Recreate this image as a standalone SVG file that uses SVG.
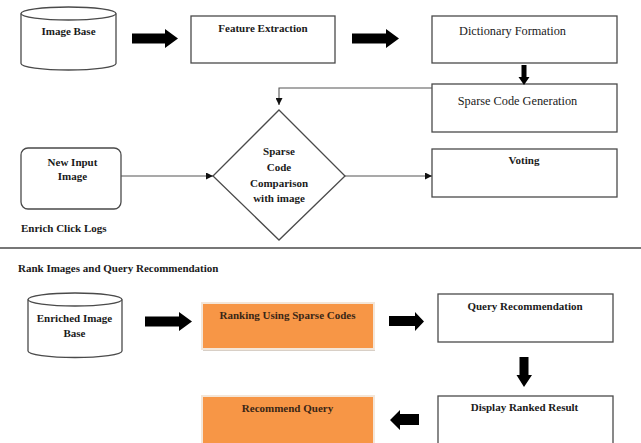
<svg xmlns="http://www.w3.org/2000/svg" width="641" height="443" viewBox="0 0 641 443">
  <style>
    .box { fill: #ffffff; stroke: #4a4a4a; stroke-width: 1.3; }
    .orange { fill: #f79646; stroke: #f4e6d8; stroke-width: 2; }
    .link { fill: none; stroke: #555555; stroke-width: 1.1; }
    .block { fill: #000000; }
    .tb { font-family: "Liberation Serif", "Times New Roman", serif; font-weight: bold; font-size: 11px; fill: #1a1a1a; text-anchor: middle; }
    .tr { font-family: "Liberation Serif", "Times New Roman", serif; font-size: 12.3px; fill: #1a1a1a; text-anchor: middle; }
    .lbl { font-family: "Liberation Serif", "Times New Roman", serif; font-weight: bold; font-size: 11px; fill: #1a1a1a; }
    .on-orange { fill: #3a2616; }
  </style>
  <defs>
    <marker id="tri" viewBox="0 0 10 10" refX="10" refY="5" markerWidth="7" markerHeight="7" markerUnits="userSpaceOnUse" orient="auto">
      <path d="M0,0 L10,5 L0,10 z" fill="#111111"/>
    </marker>
  </defs>
  <rect width="641" height="443" fill="#ffffff"/>

  <!-- upper section -->
  <g id="image-base">
    <path class="box" d="M21,13.5 L21,63.5 A47.5,6.5 0 0 0 116,63.5 L116,13.5"/>
    <ellipse class="box" cx="68.5" cy="13.5" rx="47.5" ry="6.5"/>
    <text class="tb" x="68.5" y="35">Image Base</text>
  </g>

  <g id="feature-extraction">
    <rect class="box" x="191" y="16" width="144" height="47"/>
    <text class="tb" x="263" y="32">Feature Extraction</text>
  </g>

  <g id="dictionary-formation">
    <rect class="box" x="432" y="16" width="185" height="47"/>
    <text class="tr" x="512.5" y="35">Dictionary Formation</text>
  </g>

  <g id="sparse-code-generation">
    <rect class="box" x="432" y="84" width="185" height="48"/>
    <text class="tr" x="517.5" y="105">Sparse Code Generation</text>
  </g>

  <g id="new-input-image">
    <rect class="box" x="21" y="148" width="100" height="61" rx="7" ry="7"/>
    <text class="tb" x="72.5" y="166">New Input</text>
    <text class="tb" x="72.5" y="180">Image</text>
  </g>

  <g id="comparison">
    <polygon class="box" points="279,110 345,176 279,240 213,176"/>
    <text class="tb" x="279" y="155">Sparse</text>
    <text class="tb" x="279" y="171">Code</text>
    <text class="tb" x="279" y="187">Comparison</text>
    <text class="tb" x="279" y="202">with image</text>
  </g>

  <g id="voting">
    <rect class="box" x="432" y="149" width="185" height="48"/>
    <text class="tb" x="524" y="164">Voting</text>
  </g>

  <text class="lbl" x="21" y="232">Enrich Click Logs</text>

  <line x1="0" y1="248" x2="641" y2="248" stroke="#777777" stroke-width="2"/>

  <!-- lower section -->
  <text class="lbl" x="18" y="272" font-size="9.9">Rank Images and Query Recommendation</text>

  <g id="enriched-image-base">
    <path class="box" d="M28,299.5 L28,351 A47,6.5 0 0 0 122,351 L122,299.5"/>
    <ellipse class="box" cx="75" cy="299.5" rx="47" ry="6.5"/>
    <text class="tb" x="74.5" y="322">Enriched Image</text>
    <text class="tb" x="74.5" y="337">Base</text>
  </g>

  <g id="ranking">
    <rect x="203" y="349" width="172" height="2" fill="#d8cfc6"/>
    <rect class="orange" x="202" y="303" width="172" height="46"/>
    <text class="tb on-orange" x="287.5" y="319">Ranking Using Sparse Codes</text>
  </g>

  <g id="query-recommendation">
    <rect class="box" x="438" y="294" width="175" height="48"/>
    <text class="tb" x="525" y="310">Query Recommendation</text>
  </g>

  <g id="display-ranked-result">
    <rect class="box" x="438" y="396" width="175" height="50"/>
    <text class="tb" x="524.5" y="411">Display Ranked Result</text>
  </g>

  <g id="recommend-query">
    <rect class="orange" x="202" y="396" width="172" height="50"/>
    <text class="tb on-orange" x="287.5" y="412">Recommend Query</text>
  </g>

  <!-- connectors -->
  <g id="connectors">
    <polyline class="link" points="432,88 279,88 279,105" marker-end="url(#tri)"/>
    <line class="link" x1="121" y1="176" x2="213" y2="176" marker-end="url(#tri)"/>
    <line class="link" x1="345" y1="176" x2="432" y2="176" marker-end="url(#tri)"/>
    <!-- block arrows -->
    <polygon class="block" points="132,33.5 165,33.5 165,29 178,38.5 165,48 165,43.5 132,43.5"/>
    <polygon class="block" points="352,33.5 386,33.5 386,29 399,38.5 386,48 386,43.5 352,43.5"/>
    <polygon class="block" points="521.5,65 526.5,65 526.5,77 529.5,77 524,85 518.5,77 521.5,77"/>
    <polygon class="block" points="145,316.5 179,316.5 179,312 192,321.5 179,331 179,326.5 145,326.5"/>
    <polygon class="block" points="389,316 415,316 415,312 424,321.5 415,331 415,326 389,326"/>
    <polygon class="block" points="519.5,357 528.5,357 528.5,375 532,375 524,387 516.5,375 519.5,375"/>
    <polygon class="block" points="419,414 400,414 400,410 390,420 400,430 400,425 419,425"/>
  </g>
</svg>
